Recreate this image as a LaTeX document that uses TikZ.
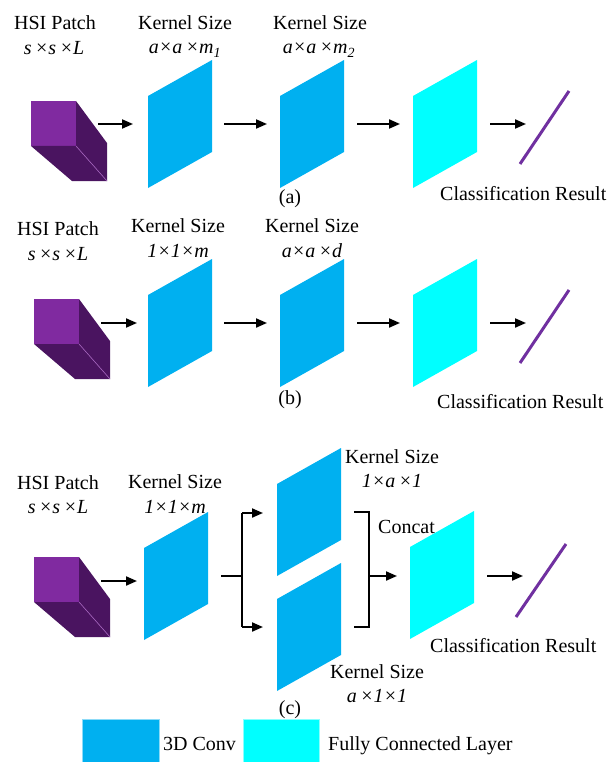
\documentclass[tikz,border=0pt]{standalone}
\usepackage{fontspec}
\setmainfont{Liberation Serif}
\usetikzlibrary{arrows.meta}
\definecolor{conv}{RGB}{0,176,240}
\definecolor{fc}{RGB}{0,255,255}
\definecolor{cubefront}{RGB}{128,42,160}
\definecolor{cubedark}{RGB}{74,20,96}
\definecolor{cubeedge}{RGB}{165,100,190}
\definecolor{result}{RGB}{112,48,160}
\tikzset{
  lbl/.style={font=\fontsize{20}{24}\selectfont, inner sep=0pt, anchor=base},
  flow/.style={line width=2pt, -{Triangle[length=11pt,width=9pt]}},
  wire/.style={line width=2pt},
  outcome/.style={draw=result, line width=3pt},
  keybox/.style={draw=#1!45, line width=0.6pt, fill=#1},
  plate/.pic={\fill (0,0) -- (64,-36) -- (64,56) -- (0,92) -- cycle;},
  cube/.pic={
    \fill[cubefront] (0,0) rectangle (45,45);
    \fill[cubedark] (45,0) -- (76,42) -- (76,80) -- (45,45) -- cycle;
    \fill[cubedark] (0,45) -- (45,45) -- (76,80) -- (41,80) -- cycle;
    \draw[cubeedge, line width=0.6pt] (45,45) -- (76,80);
  },
}
\begin{document}
\begin{tikzpicture}[x=1pt,y=-1pt]
\useasboundingbox (0,0) rectangle (608,762);

% ---------- (a) ----------
\node[lbl] (aHsi) at (55,30) {HSI Patch};
\node[lbl] (aHsiDim) at (54,55) {\itshape s\,×s\,×L};
\node[lbl] (aK1) at (185,30) {Kernel Size};
\node[lbl] (aK1Dim) at (185,54) {\itshape a×a\,×m\textsubscript{1}};
\node[lbl] (aK2) at (320,30) {Kernel Size};
\node[lbl] (aK2Dim) at (319,54) {\itshape a×a\,×m\textsubscript{2}};
\pic at (31,101) {cube};
\pic[fill=conv] at (148,96) {plate};
\pic[fill=conv] at (280,96) {plate};
\pic[fill=fc] at (413,96) {plate};
\coordinate (a1s) at (98,124);  \coordinate (a1e) at (133,124);
\coordinate (a2s) at (224,124); \coordinate (a2e) at (267,124);
\coordinate (a3s) at (357,124); \coordinate (a3e) at (400,124);
\coordinate (a4s) at (490,124); \coordinate (a4e) at (526,124);
\draw[flow] (a1s) -- (a1e);
\draw[flow] (a2s) -- (a2e);
\draw[flow] (a3s) -- (a3e);
\draw[flow] (a4s) -- (a4e);
\coordinate (aRes1) at (520,164); \coordinate (aRes2) at (569,91);
\draw[outcome] (aRes1) -- (aRes2);
\node[lbl, anchor=center] (aTag) at (290,199) {(a)};
\node[lbl, anchor=base west] (aOut) at (440,200) {Classification Result};

% ---------- (b) ----------
\node[lbl] (bHsi) at (58,235) {HSI Patch};
\node[lbl] (bHsiDim) at (58,260) {\itshape s\,×s\,×L};
\node[lbl] (bK1) at (178,232) {Kernel Size};
\node[lbl] (bK1Dim) at (178,257) {\itshape 1×1×m};
\node[lbl] (bK2) at (312,232) {Kernel Size};
\node[lbl] (bK2Dim) at (312,257) {\itshape a×a\,×d};
\pic at (34,299) {cube};
\pic[fill=conv] at (148,295) {plate};
\pic[fill=conv] at (280,295) {plate};
\pic[fill=fc] at (413,295) {plate};
\coordinate (b1s) at (101,323); \coordinate (b1e) at (137,323);
\coordinate (b2s) at (224,323); \coordinate (b2e) at (267,323);
\coordinate (b3s) at (357,323); \coordinate (b3e) at (400,323);
\coordinate (b4s) at (490,323); \coordinate (b4e) at (526,323);
\draw[flow] (b1s) -- (b1e);
\draw[flow] (b2s) -- (b2e);
\draw[flow] (b3s) -- (b3e);
\draw[flow] (b4s) -- (b4e);
\coordinate (bRes1) at (520,363); \coordinate (bRes2) at (569,290);
\draw[outcome] (bRes1) -- (bRes2);
\node[lbl, anchor=center] (bTag) at (290,400) {(b)};
\node[lbl, anchor=base west] (bOut) at (437,408) {Classification Result};

% ---------- (c) ----------
\node[lbl] (cHsi) at (58,489) {HSI Patch};
\node[lbl] (cHsiDim) at (58,513) {\itshape s\,×s\,×L};
\node[lbl] (cK1) at (175,488) {Kernel Size};
\node[lbl] (cK1Dim) at (175,513) {\itshape 1×1×m};
\node[lbl] (cKt) at (392,463) {Kernel Size};
\node[lbl] (cKtDim) at (392,487) {\itshape 1×a\,×1};
\node[lbl] (cKb) at (377,678) {Kernel Size};
\node[lbl] (cKbDim) at (377,702) {\itshape a\,×1×1};
\pic at (34,557) {cube};
\pic[fill=conv] at (144,548) {plate};
\pic[fill=conv] at (277,484) {plate};
\pic[fill=conv] at (277,599) {plate};
\pic[fill=fc] at (410,547) {plate};
\coordinate (c1s) at (101,581); \coordinate (c1e) at (137,581);
\draw[flow] (c1s) -- (c1e);
% split into the two branches
\coordinate (cSplitIn) at (221,576); \coordinate (cSplit) at (242,576);
\coordinate (cUp) at (242,513); \coordinate (cDown) at (242,627);
\coordinate (cUpEnd) at (263,513); \coordinate (cDownEnd) at (263,627);
\draw[wire] (cSplitIn) -- (cSplit);
\draw[wire] (cUp) -- (cDown);
\draw[flow] (cUp) -- (cUpEnd);
\draw[flow] (cDown) -- (cDownEnd);
% concatenation bracket
\coordinate (cJt0) at (354,512); \coordinate (cJt) at (369,512);
\coordinate (cJb) at (369,627); \coordinate (cJb0) at (354,627);
\draw[wire] (cJt0) -- (cJt) -- (cJb) -- (cJb0);
\coordinate (cJoin) at (369,576); \coordinate (cJoinEnd) at (397,576);
\draw[flow] (cJoin) -- (cJoinEnd);
\node[lbl, anchor=base west] (cConcat) at (378,533) {Concat};
\coordinate (c4s) at (487,576); \coordinate (c4e) at (523,576);
\draw[flow] (c4s) -- (c4e);
\coordinate (cRes1) at (516,617); \coordinate (cRes2) at (566,544);
\draw[outcome] (cRes1) -- (cRes2);
\node[lbl, anchor=center] (cTag) at (290,710) {(c)};
\node[lbl, anchor=base west] (cOut) at (430,652) {Classification Result};

% ---------- legend ----------
\path[keybox=conv] (82,719) rectangle (159,764);
\node[lbl, anchor=base west] (legConv) at (163,750) {3D Conv};
\path[keybox=fc] (243,719) rectangle (319,764);
\node[lbl, anchor=base west] (legFc) at (328,750) {Fully Connected Layer};
\end{tikzpicture}
\end{document}
